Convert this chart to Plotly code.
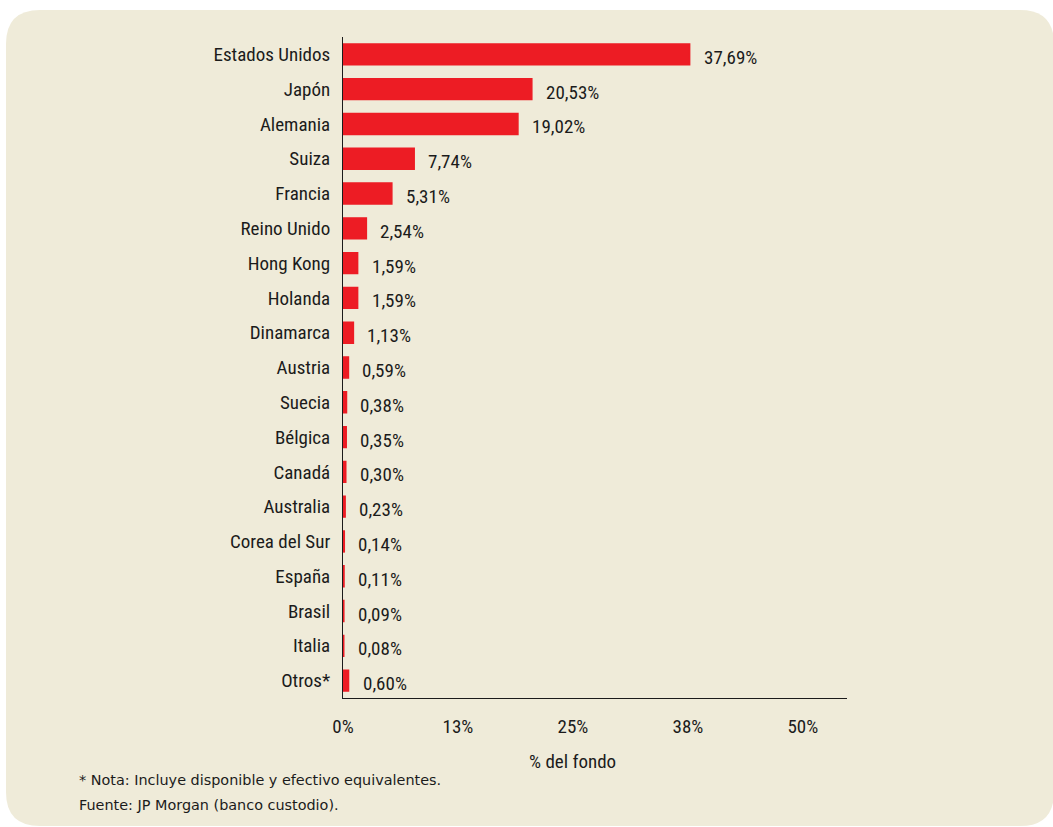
import plotly.graph_objects as go

# Fund allocation by country (% of fund)
countries = ["Estados Unidos", "Japón", "Alemania", "Suiza", "Francia", "Reino Unido",
             "Hong Kong", "Holanda", "Dinamarca", "Austria", "Suecia", "Bélgica",
             "Canadá", "Australia", "Corea del Sur", "España", "Brasil", "Italia", "Otros*"]
shares = [37.69, 20.53, 19.02, 7.74, 5.31, 2.54, 1.59, 1.59, 1.13, 0.59, 0.38, 0.35,
          0.30, 0.23, 0.14, 0.11, 0.09, 0.08, 0.60]
tick_values = [0, 12.5, 25, 37.5, 50]
tick_labels = ["0%", "13%", "25%", "38%", "50%"]

W, H = 1053, 827
ML, MR, MT, MB = 343, 206, 37, 129
PW, PH = W - ML - MR, H - MT - MB

BG = "#EFEBD9"
RED = "#ED1C24"
INK = "#1B1B1B"
COND = "Roboto Condensed, sans-serif"
COND_FONT = dict(family=COND, size=19, color=INK)
NOTE_FONT = dict(family="DejaVu Sans, sans-serif", size=14.4, color=INK)


def px(x):
    return (x - ML) / PW


def py(y):
    return (H - MB - y) / PH


def rounded_box(x0, y0, x1, y1, r):
    pts = [
        ("M", [(x0 + r, y0)]),
        ("L", [(x1 - r, y0)]),
        ("Q", [(x1, y0), (x1, y0 + r)]),
        ("L", [(x1, y1 - r)]),
        ("Q", [(x1, y1), (x1 - r, y1)]),
        ("L", [(x0 + r, y1)]),
        ("Q", [(x0, y1), (x0, y1 - r)]),
        ("L", [(x0, y0 + r)]),
        ("Q", [(x0, y0), (x0 + r, y0)]),
    ]
    out = []
    for cmd, coords in pts:
        out.append(cmd + " " + " ".join(f"{px(a):.5f},{py(b):.5f}" for a, b in coords))
    return " ".join(out) + " Z"


fig = go.Figure()
fig.add_trace(go.Bar(
    x=shares,
    y=countries,
    orientation="h",
    marker=dict(color=RED, line=dict(color=RED, width=1.5)),
    hoverinfo="skip",
))

annotations = []
for c, v in zip(countries, shares):
    annotations.append(dict(
        x=v, y=c, xref="x", yref="y",
        text=f"{v:.2f}%".replace(".", ","),
        showarrow=False, xanchor="left", yanchor="middle", align="left",
        xshift=12, yshift=-3,
        font=COND_FONT,
    ))

annotations.append(dict(
    x=25, y=py(761), xref="x", yref="paper",
    text="% del fondo", showarrow=False, xanchor="center", yanchor="middle",
    font=COND_FONT,
))
annotations.append(dict(
    x=px(77), y=py(780), xref="paper", yref="paper",
    text="* Nota: Incluye disponible y efectivo equivalentes.",
    showarrow=False, xanchor="left", yanchor="middle", align="left",
    font=NOTE_FONT,
))
annotations.append(dict(
    x=px(77), y=py(805), xref="paper", yref="paper",
    text="Fuente: JP Morgan (banco custodio).",
    showarrow=False, xanchor="left", yanchor="middle", align="left",
    font=NOTE_FONT,
))

fig.update_layout(
    width=W, height=H,
    margin=dict(l=ML, r=MR, t=MT, b=MB),
    paper_bgcolor="white",
    plot_bgcolor="rgba(0,0,0,0)",
    bargap=0.4,
    showlegend=False,
    shapes=[dict(
        type="path", xref="paper", yref="paper",
        path=rounded_box(6, 10, 1054, 826, 34),
        fillcolor=BG, line=dict(width=0), layer="below",
    )],
    annotations=annotations,
    xaxis=dict(
        range=[0, 54.8],
        tickvals=tick_values, ticktext=tick_labels,
        showgrid=False, zeroline=False,
        showline=True, linecolor=INK, linewidth=1,
        ticks="", ticklabelstandoff=11,
        tickfont=COND_FONT,
        fixedrange=True,
    ),
    yaxis=dict(
        autorange="reversed",
        showgrid=False, zeroline=False,
        showline=True, linecolor=INK, linewidth=1,
        ticks="", ticklabelstandoff=8,
        tickfont=COND_FONT,
        fixedrange=True,
    ),
)

fig.write_html("out.html")
